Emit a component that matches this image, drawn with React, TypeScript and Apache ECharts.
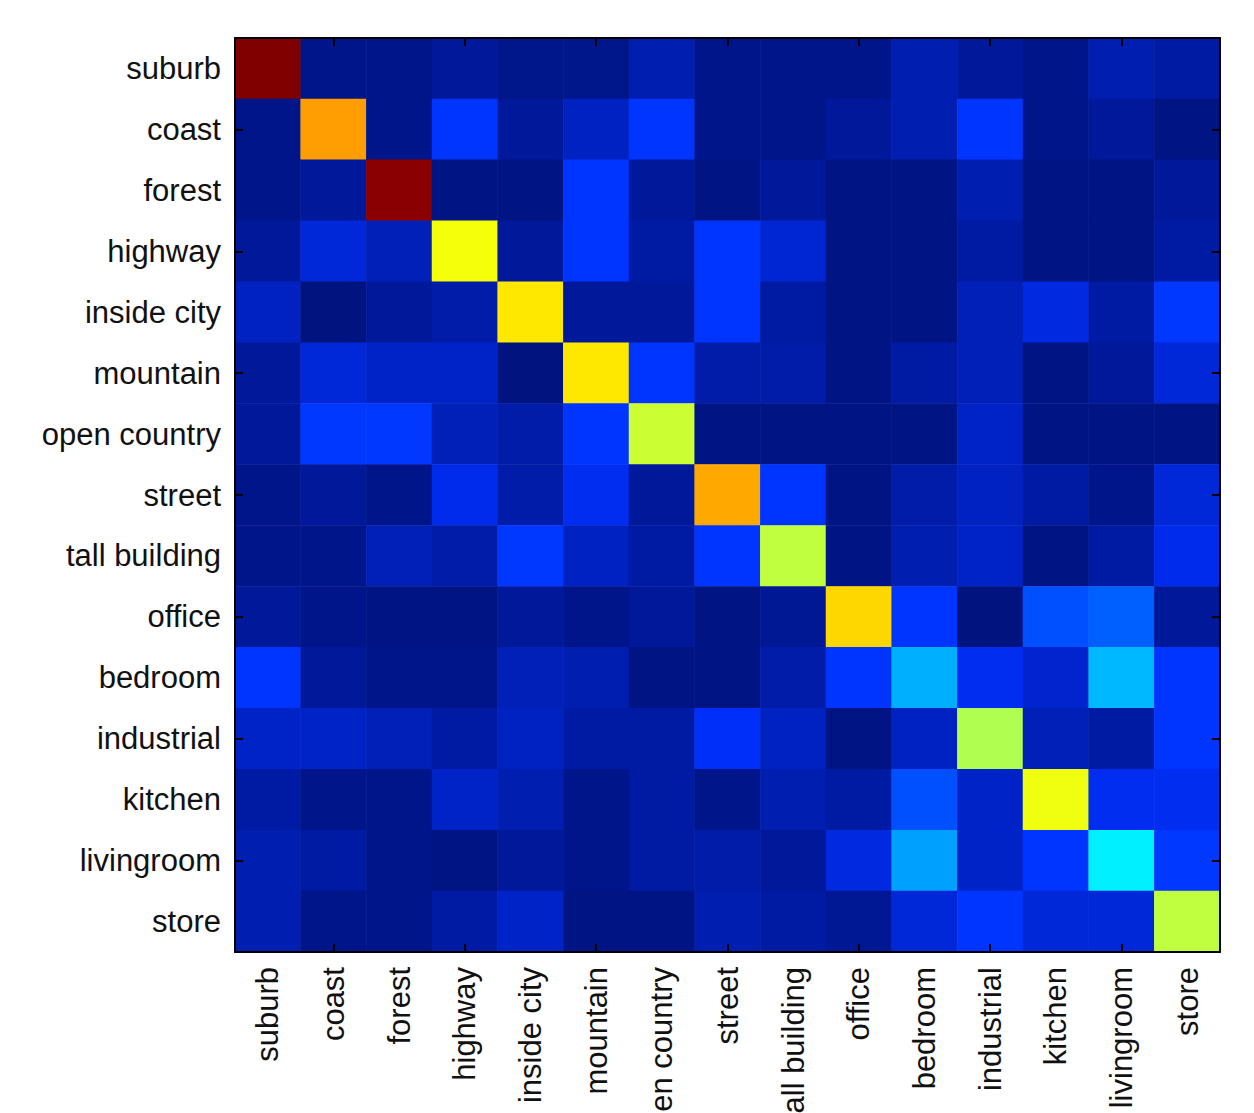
import React, { useEffect, useRef } from "react";
import * as echarts from "echarts";

const categories = [
  "suburb", "coast", "forest", "highway", "inside city", "mountain", "open country",
  "street", "tall building", "office", "bedroom", "industrial", "kitchen", "livingroom", "store",
];

// rows = true class (top to bottom), columns = predicted class (left to right)
const rowSuburb = [1.0, 0.01, 0.01, 0.026, 0.012, 0.012, 0.047, 0.01, 0.01, 0.01, 0.047, 0.026, 0.01, 0.047, 0.035];
const rowCoast = [0.01, 0.72, 0.01, 0.13, 0.026, 0.063, 0.13, 0.01, 0.01, 0.026, 0.047, 0.13, 0.01, 0.026, 0.005];
const rowForest = [0.01, 0.026, 0.99, 0.005, 0.005, 0.13, 0.026, 0.005, 0.026, 0.005, 0.005, 0.047, 0.005, 0.005, 0.026];
const rowHighway = [0.026, 0.087, 0.055, 0.615, 0.026, 0.13, 0.035, 0.13, 0.083, 0.005, 0.005, 0.035, 0.005, 0.005, 0.035];
const rowInsideCity = [0.063, 0.0, 0.026, 0.04, 0.648, 0.026, 0.026, 0.13, 0.035, 0.005, 0.005, 0.055, 0.095, 0.035, 0.135];
const rowMountain = [0.026, 0.087, 0.071, 0.071, 0.0, 0.648, 0.13, 0.04, 0.04, 0.005, 0.035, 0.055, 0.005, 0.026, 0.087];
const rowOpenCountry = [0.026, 0.135, 0.135, 0.055, 0.04, 0.13, 0.575, 0.005, 0.005, 0.005, 0.005, 0.071, 0.005, 0.005, 0.005];
const rowStreet = [0.01, 0.026, 0.01, 0.105, 0.04, 0.11, 0.026, 0.71, 0.13, 0.005, 0.04, 0.063, 0.035, 0.01, 0.087];
const rowTallBuilding = [0.01, 0.01, 0.055, 0.04, 0.135, 0.063, 0.035, 0.13, 0.563, 0.005, 0.047, 0.071, 0.005, 0.035, 0.105];
const rowOffice = [0.026, 0.01, 0.005, 0.005, 0.026, 0.01, 0.026, 0.005, 0.02, 0.664, 0.13, 0.0, 0.167, 0.1875, 0.026];
const rowBedroom = [0.13, 0.026, 0.01, 0.01, 0.055, 0.047, 0.005, 0.005, 0.04, 0.13, 0.286, 0.11, 0.078, 0.295, 0.13];
const rowIndustrial = [0.071, 0.071, 0.055, 0.035, 0.063, 0.035, 0.035, 0.12, 0.063, 0.005, 0.063, 0.547, 0.055, 0.035, 0.13];
const rowKitchen = [0.035, 0.01, 0.01, 0.071, 0.047, 0.01, 0.035, 0.01, 0.047, 0.035, 0.167, 0.071, 0.61, 0.11, 0.11];
const rowLivingroom = [0.047, 0.035, 0.01, 0.005, 0.026, 0.01, 0.035, 0.04, 0.026, 0.095, 0.268, 0.071, 0.13, 0.358, 0.135];
const rowStore = [0.047, 0.01, 0.01, 0.035, 0.071, 0.005, 0.005, 0.047, 0.035, 0.02, 0.087, 0.13, 0.087, 0.087, 0.563];

const rows = [
  rowSuburb, rowCoast, rowForest, rowHighway, rowInsideCity, rowMountain, rowOpenCountry,
  rowStreet, rowTallBuilding, rowOffice, rowBedroom, rowIndustrial, rowKitchen, rowLivingroom, rowStore,
];

// jet-like colormap, equally spaced stops from 0 to 1
const jetStops = [
  "#00137f", "#0030ff", "#0090ff", "#00ffff", "#80ff80", "#ffff00", "#ff8000", "#ff0000", "#800000",
];

export default function App() {
  const ref = useRef<HTMLDivElement>(null);

  useEffect(() => {
    if (!ref.current) return;
    const chart = echarts.init(ref.current, undefined, { renderer: "svg" });
    const data: [number, number, number][] = [];
    rows.forEach((r, yi) => r.forEach((v, xi) => data.push([xi, yi, v])));

    const font = "'Liberation Sans', Arial, sans-serif";
    const tickInterval = (i: number) => i % 2 === 1;
    const axisCommon = {
      type: "category" as const,
      data: categories,
      z: 10,
      axisLine: { show: true, lineStyle: { color: "#000", width: 2 } },
      axisTick: {
        show: true,
        inside: true,
        alignWithLabel: true,
        length: 8,
        interval: tickInterval,
        lineStyle: { color: "#000", width: 2 },
      },
      splitLine: { show: false },
      splitArea: { show: false },
    };

    chart.setOption({
      animation: false,
      backgroundColor: "#fff",
      grid: {
        left: 235,
        top: 38,
        width: 985,
        height: 914,
        containLabel: false,
        outerBoundsMode: "none",
      },
      xAxis: [
        {
          ...axisCommon,
          position: "bottom",
          axisLabel: {
            interval: 0,
            rotate: 90,
            margin: 15,
            fontSize: 31,
            fontFamily: font,
            color: "#111",
          },
        },
        {
          ...axisCommon,
          position: "top",
          axisLabel: { show: false },
        },
      ],
      yAxis: [
        {
          ...axisCommon,
          inverse: true,
          position: "left",
          axisLabel: {
            interval: 0,
            margin: 14,
            fontSize: 31,
            fontFamily: font,
            color: "#111",
          },
        },
        {
          ...axisCommon,
          inverse: true,
          position: "right",
          axisLabel: { show: false },
        },
      ],
      visualMap: {
        show: false,
        min: 0,
        max: 1,
        calculable: false,
        inRange: { color: jetStops },
      },
      series: [
        {
          type: "heatmap",
          xAxisIndex: 0,
          yAxisIndex: 0,
          data,
          z: 1,
          itemStyle: { borderWidth: 0 },
          emphasis: { disabled: true },
        },
      ],
    });

    return () => chart.dispose();
  }, []);

  return (
    <div
      ref={ref}
      style={{ position: "absolute", left: 0, top: 0, width: 1254, height: 1113, overflow: "hidden" }}
    />
  );
}
